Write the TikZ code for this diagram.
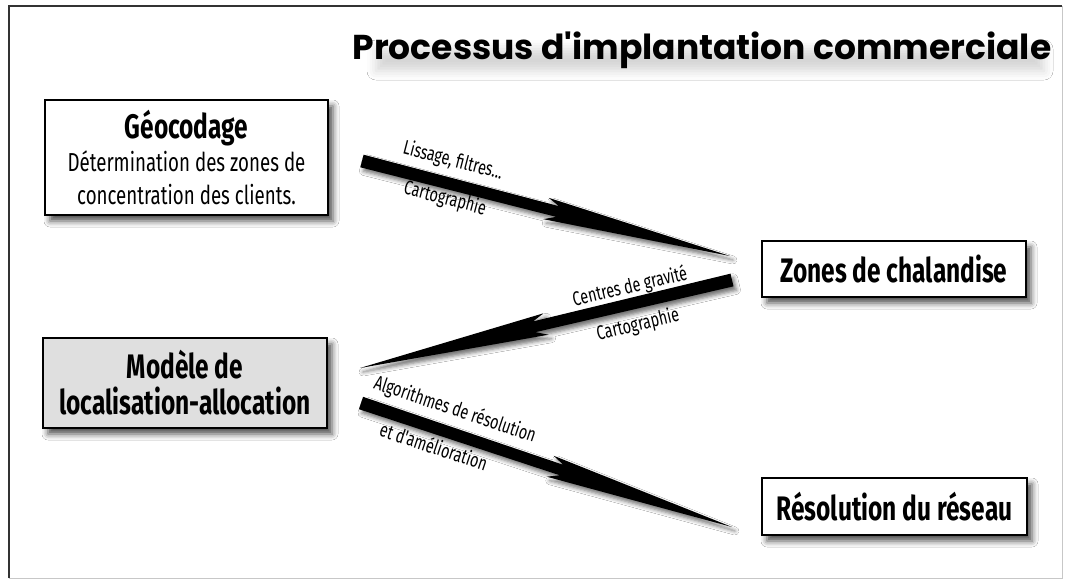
\documentclass[tikz,border=0pt]{standalone}
\usepackage{fontspec}
\usetikzlibrary{calc,shadows.blur}
\newfontfamily\agency[FakeStretch=0.72]{Fira Sans}
\newfontfamily\gothic{Poppins}

% Barbed wedge arrow: #1 tail, #2 tip, #3 barb position (fraction of length)
\newcommand\barbarrow[3]{%
  \coordinate (bb) at ($(#1)!#3!(#2)$);
  \coordinate (bn) at ($(bb)!12pt!(#2)$);
  \fill[wedge] ($(#1)!6.5pt!90:(#2)$) -- ($(bn)!5.5pt!90:(#2)$)
    -- ($(bb)!11pt!90:(#2)$) -- (#2) -- ($(bb)!11pt!-90:(#2)$)
    -- ($(bn)!5.5pt!-90:(#2)$) -- ($(#1)!6.5pt!-90:(#2)$) -- cycle;}

\begin{document}
\begin{tikzpicture}[x=1pt,y=-1pt,
  box/.style={draw=black, line width=2.5pt, fill=white, inner sep=0pt, align=center,
    font=\agency\fontsize{26}{33}\selectfont,
    blur shadow={shadow xshift=5pt, shadow yshift=-6pt, shadow blur radius=6pt, shadow opacity=70}},
  boxhead/.style={font=\agency\bfseries\fontsize{34}{36}\selectfont},
  wedge/.style={fill=black,
    blur shadow={shadow xshift=3pt, shadow yshift=-4pt, shadow blur radius=4pt, shadow opacity=55}},
  lbl/.style={font=\agency\fontsize{20}{22}\selectfont, inner sep=0pt}]
\useasboundingbox (0,0) rectangle (1068,579);
\fill[white] (0,0) rectangle (1068,579);

% outer frame
\draw[line width=1pt, black!22] (9,578) -- (1062,578) -- (1062,6);
\draw[line width=2.5pt, black!80] (9,578) -- (9,6) -- (1062,6);

% title over a soft haze
\path[blur shadow={shadow xshift=4pt, shadow yshift=-7pt, shadow blur radius=9pt, shadow opacity=16}]
  (372,42) rectangle (1040,64);
\node[font=\gothic\bfseries\fontsize{34.5}{38}\selectfont] (title) at (702,50)
  {Processus d'implantation commerciale};

% boxes
\node[box, minimum width=283pt, minimum height=115pt] (geo) at (186.5,157.5)
  {{\bfseries\fontsize{34}{33}\selectfont Géocodage}\\ Détermination des zones de\\ concentration des clients.};
\node[box, boxhead, minimum width=264pt, minimum height=56pt] (zones) at (894,269)
  {Zones de chalandise};
\node[box, boxhead, fill=gray!25, minimum width=284pt, minimum height=90pt] (modele) at (185,383)
  {Modèle de\\ localisation-allocation};
\node[box, boxhead, minimum width=265pt, minimum height=57pt] (reso) at (894.5,506.5)
  {Résolution du réseau};

% arrow end points
\coordinate (t1) at (362,161);  \coordinate (h1) at (730,256);
\coordinate (t2) at (732,280);  \coordinate (h2) at (360,368);
\coordinate (t3) at (361,403);  \coordinate (h3) at (732,527);

\barbarrow{t1}{h1}{0.5}
\barbarrow{t2}{h2}{0.5}
\barbarrow{t3}{h3}{0.51}

% arrow labels
\node[lbl, rotate=-14.5] (l1a) at (453,161) {Lissage, filtres...};
\node[lbl, rotate=-14.5] (l1b) at (445,199) {Cartographie};
\node[lbl, rotate=13.3] (l2a) at (630,287) {Centres de gravité};
\node[lbl, rotate=13.3] (l2b) at (638,325) {Cartographie};
\node[lbl, rotate=-18.5] (l3a) at (455,410) {Algorithmes de résolution};
\node[lbl, rotate=-18.5] (l3b) at (434,446) {et d'amélioration};
\end{tikzpicture}
\end{document}
